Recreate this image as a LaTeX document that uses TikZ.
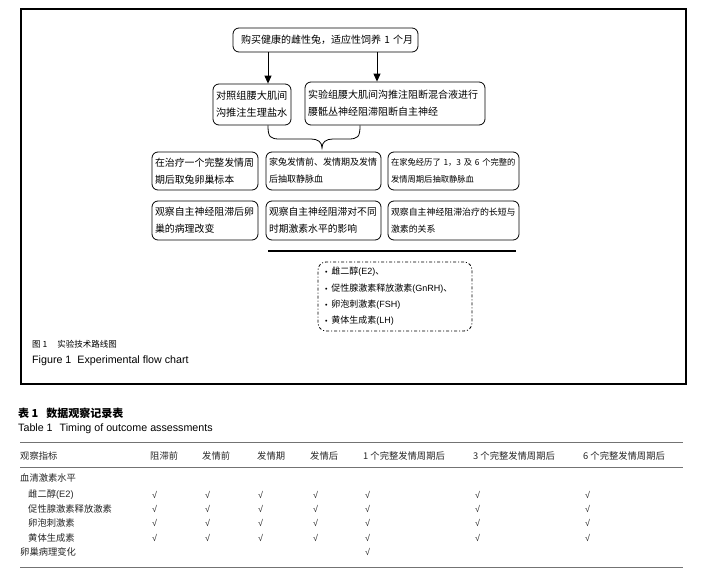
\documentclass[tikz,border=0pt]{standalone}
\usepackage{fontspec}
\setmainfont{Noto Sans CJK SC}
\newfontfamily\lat{Liberation Sans}
\usetikzlibrary{arrows.meta}
\begin{document}
\begin{tikzpicture}[x=1pt,y=-1pt,
  box/.style={draw, line width=0.8pt, rounded corners=6pt, inner xsep=3pt, inner ysep=0pt, align=left},
  arr/.style={line width=0.9pt, -{Triangle[length=8pt,width=7pt]}},
  txt/.style={inner sep=0pt, anchor=west},
  tb/.style={txt, font=\fontsize{9.3}{11}\selectfont, text=black!85},
  ck/.style={txt, font=\lat\fontsize{9}{11}\selectfont, text=black!85},
  rule/.style={draw=black!55, line width=0.9pt}]
\useasboundingbox (0,0) rectangle (703,575);
\draw[line width=1.2pt] (21,9) rectangle (686,384);

% flow chart
\node[box, text width=169pt, minimum height=24pt, inner xsep=8pt, font=\fontsize{10}{12}\selectfont] (top) at (325.5,40) {购买健康的雌性兔，适应性饲养~1~个月};
\node[box, text width=72pt, minimum height=41pt, font=\fontsize{10.2}{17}\selectfont] (a) at (252,104.5) {对照组腰大肌间\\沟推注生理盐水};
\node[box, text width=174pt, minimum height=43pt, font=\fontsize{10}{17}\selectfont] (b) at (395,103.5) {实验组腰大肌间沟推注阻断混合液进行\\腰骶丛神经阻滞阻断自主神经};

\node[box, text width=100pt, minimum height=38pt, font=\fontsize{9.9}{17}\selectfont] (c1) at (205,171) {在治疗一个完整发情周\\期后取兔卵巢标本};
\node[box, text width=109pt, minimum height=38pt, font=\fontsize{9}{17}\selectfont] (c2) at (323.5,171) {家兔发情前、发情期及发情\\后抽取静脉血};
\node[box, text width=125pt, minimum height=38pt, font=\fontsize{8.3}{17}\selectfont] (c3) at (453.5,171) {在家兔经历了~1，3~及~6~个完整的\\发情周期后抽取静脉血};
\node[box, text width=100pt, minimum height=39pt, font=\fontsize{9.9}{17}\selectfont] (d1) at (205,220.5) {观察自主神经阻滞后卵\\巢的病理改变};
\node[box, text width=109pt, minimum height=39pt, font=\fontsize{9.8}{17}\selectfont] (d2) at (323.5,220.5) {观察自主神经阻滞对不同\\时期激素水平的影响};
\node[box, text width=125pt, minimum height=39pt, font=\fontsize{8.9}{17}\selectfont] (d3) at (453.5,220.5) {观察自主神经阻滞治疗的长短与\\激素的关系};

\coordinate (ax1) at (268,0);
\coordinate (ax2) at (377,0);
\draw[arr] (top.south -| ax1) -- (a.north -| ax1);
\draw[arr] (top.south -| ax2) -- (b.north -| ax2);

\coordinate (bl) at (268,0);
\coordinate (br) at (360,0);
\coordinate (bt) at (322,148);
\draw[line width=0.8pt] (a.south -| bl) .. controls (268,137) and (270,139) .. (280,139) -- (311,139)
  .. controls (318,139) and (322,142) .. (bt)
  .. controls (322,142) and (326,139) .. (333,139) -- (348,139)
  .. controls (358,139) and (360,137) .. (b.south -| br);

\coordinate (l1) at (268,251);
\coordinate (l2) at (516,251);
\draw[line width=1.5pt] (l1) -- (l2);

\node[draw, rounded corners=8pt, dash pattern=on 3pt off 2pt on 1pt off 2pt, line width=0.8pt,
  minimum width=154pt, minimum height=69pt, inner xsep=7pt, inner ysep=0pt, text width=140pt, align=left,
  font=\fontsize{9}{16.3}\selectfont] (hb) at (395,296.5)
  {{\lat\fontsize{7}{7}\selectfont•}\hspace{4pt}雌二醇{\lat(E2)}、\\
   {\lat\fontsize{7}{7}\selectfont•}\hspace{4pt}促性腺激素释放激素{\lat(GnRH)}、\\
   {\lat\fontsize{7}{7}\selectfont•}\hspace{4pt}卵泡刺激素{\lat(FSH)}\\
   {\lat\fontsize{7}{7}\selectfont•}\hspace{4pt}黄体生成素{\lat(LH)}};

\node[txt, font=\fontsize{8.5}{8.5}\selectfont] (cap1) at (32,344) {图 1\hspace{10pt}实验技术路线图};
\node[txt, font=\lat\fontsize{10.7}{10.7}\selectfont] (cap2) at (32,361) {Figure 1\hspace{6pt}Experimental flow chart};

% table
\node[txt, font=\bfseries\fontsize{11}{11}\selectfont] (tcap1) at (18,413) {表 1\hspace{8pt}数据观察记录表};
\node[txt, font=\lat\fontsize{10.7}{10.7}\selectfont] (tcap2) at (18,429) {Table 1\hspace{7pt}Timing of outcome assessments};

\coordinate (r1a) at (20,442); \coordinate (r1b) at (683,442);
\coordinate (r2a) at (20,467); \coordinate (r2b) at (683,467);
\coordinate (r3a) at (20,567); \coordinate (r3b) at (683,567);
\draw[rule] (r1a) -- (r1b);
\draw[rule] (r2a) -- (r2b);
\draw[rule] (r3a) -- (r3b);

\node[tb] (h0) at (20,456) {观察指标};
\node[tb] (h1) at (150,456) {阻滞前};
\node[tb] (h2) at (202,456) {发情前};
\node[tb] (h3) at (257,456) {发情期};
\node[tb] (h4) at (310,456) {发情后};
\node[tb] (h5) at (363,456) {1 个完整发情周期后};
\node[tb] (h6) at (473,456) {3 个完整发情周期后};
\node[tb] (h7) at (583,456) {6 个完整发情周期后};

\node[tb] (rs) at (20,478) {血清激素水平};
\node[tb] (re2) at (28,495) {雌二醇{\lat(E2)}};
\node[tb] (rgn) at (28,509) {促性腺激素释放激素};
\node[tb] (rfsh) at (28,523) {卵泡刺激素};
\node[tb] (rlh) at (28,538) {黄体生成素};
\node[tb] (rov) at (20,552) {卵巢病理变化};

\foreach \y/\n in {495/e2, 509/gn, 523/fsh, 538/lh} {
  \foreach \x [count=\i] in {152,205,258,313,365,475,585}
    \node[ck] (ck-\n-\i) at (\x,\y) {√};
}
\node[ck] (ck-ov) at (365,552) {√};
\end{tikzpicture}
\end{document}
